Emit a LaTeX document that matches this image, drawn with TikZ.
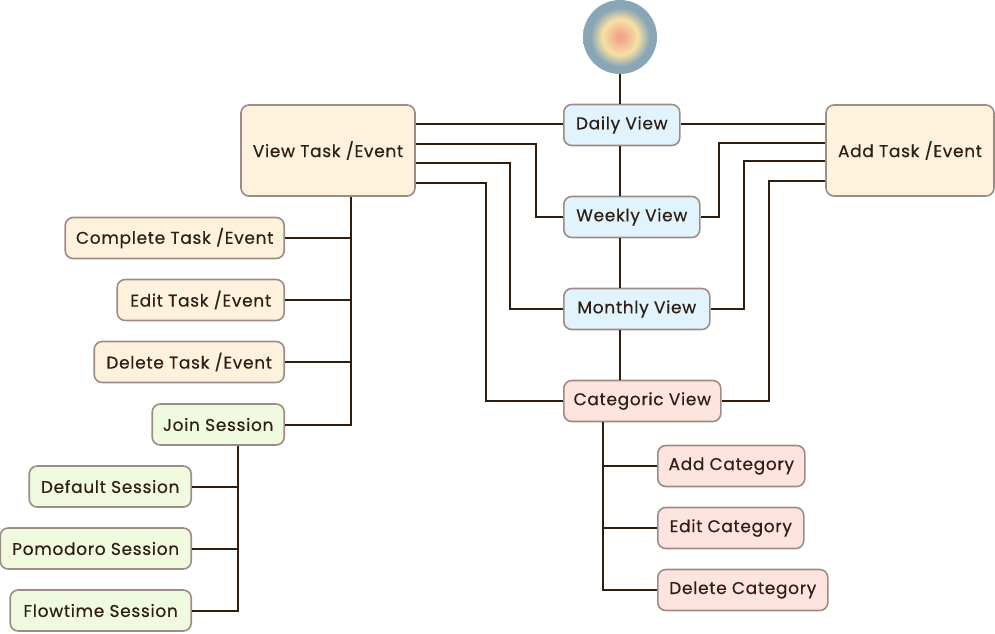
\documentclass[tikz,border=0pt]{standalone}
\usepackage{fontspec}
\setmainfont{Poppins}[LetterSpace=4, FakeBold=0.4]
\definecolor{taskfill}{HTML}{FEF2DC}
\definecolor{viewfill}{HTML}{E1F3FD}
\definecolor{catfill}{HTML}{FDE4DE}
\definecolor{sessfill}{HTML}{F0FADE}
\definecolor{rim}{HTML}{9B8D85}
\definecolor{wire}{HTML}{321E0F}
\definecolor{ink}{HTML}{2D1F14}
\definecolor{salmon}{HTML}{F2A48C}
\definecolor{sunny}{HTML}{F6E1A4}
\definecolor{mist}{HTML}{88A6B6}
\pgfdeclareradialshading{halo}{\pgfpoint{0bp}{0bp}}{color(0bp)=(salmon); color(2bp)=(salmon); color(12bp)=(sunny); color(20bp)=(mist); color(25bp)=(mist); color(50bp)=(mist)}
\tikzset{
  box/.style={draw=rim, line width=1.6pt, rounded corners=8pt, text=ink,
    minimum height=41pt, inner xsep=6pt, font=\fontsize{17}{20}\selectfont},
  bigbox/.style={box, fill=taskfill, minimum height=91pt},
  task/.style={box, fill=taskfill},
  view/.style={box, fill=viewfill},
  cat/.style={box, fill=catfill},
  sess/.style={box, fill=sessfill},
  wirestyle/.style={draw=wire, line width=2pt}
}
\begin{document}
\begin{tikzpicture}[x=1pt, y=-1pt]
        \useasboundingbox (0,0) rectangle (995,633);
        % start and views
        \node[circle, minimum size=74pt, shading=halo] (start) at (620,37) {};
        \node[view, anchor=west, minimum width=116pt] (daily) at (563,125) {Daily View};
        \node[view, anchor=west, minimum width=136pt] (weekly) at (563,217) {Weekly View};
        \node[view, anchor=west, minimum width=146pt] (monthly) at (563,309) {Monthly View};
        \node[cat, anchor=west, minimum width=157pt] (categoric) at (563,401) {Categoric View};
        \node[bigbox, minimum width=174pt] (viewtask) at (328,150.5) {View Task /Event};
        \node[bigbox, minimum width=168pt] (addtask) at (910,150.5) {Add Task /Event};
        % task actions
        \node[task, anchor=east, minimum width=219pt] (complete) at (285,238) {Complete Task /Event};
        \node[task, anchor=east, minimum width=167pt] (edittask) at (285,300) {Edit Task /Event};
        \node[task, anchor=east, minimum width=190pt] (deltask) at (285,362) {Delete Task /Event};
        \node[sess, anchor=east, minimum width=132pt] (join) at (285,424.5) {Join Session};
        \node[sess, anchor=east, minimum width=162pt] (default) at (192,486.5) {Default Session};
        \node[sess, anchor=east, minimum width=191pt] (pomodoro) at (192,548.5) {Pomodoro Session};
        \node[sess, anchor=east, minimum width=181pt] (flowtime) at (192,610.5) {Flowtime Session};
        % categories
        \node[cat, anchor=west, minimum width=147pt] (addcat) at (657,466) {Add Category};
        \node[cat, anchor=west, minimum width=146pt] (editcat) at (657,528) {Edit Category};
        \node[cat, anchor=west, minimum width=170pt] (delcat) at (657,590) {Delete Category};
        % wires
        \draw[wirestyle] (start.south) -- (daily.north -| start.south);
        \draw[wirestyle] (daily.south -| start.south) -- (weekly.north -| start.south);
        \draw[wirestyle] (weekly.south -| start.south) -- (monthly.north -| start.south);
        \draw[wirestyle] (monthly.south -| start.south) -- (categoric.north -| start.south);
        \draw[wirestyle] ([yshift=-19.5pt]viewtask.north east) -- ([yshift=-19.5pt]viewtask.north east -| daily.west);
        \draw[wirestyle] ([yshift=-39.5pt]viewtask.north east) -| ([xshift=-27pt]weekly.west) -- (weekly.west);
        \draw[wirestyle] ([yshift=-58.5pt]viewtask.north east) -| ([xshift=-53pt]monthly.west) -- (monthly.west);
        \draw[wirestyle] ([yshift=-78.5pt]viewtask.north east) -| ([xshift=-77pt]categoric.west) -- (categoric.west);
        \draw[wirestyle] ([yshift=-19.5pt]addtask.north west) -- ([yshift=-19.5pt]addtask.north west -| daily.east);
        \draw[wirestyle] ([yshift=-38.5pt]addtask.north west) -| ([xshift=18pt]weekly.east) -- (weekly.east);
        \draw[wirestyle] ([yshift=-56.5pt]addtask.north west) -| ([xshift=33pt]monthly.east) -- (monthly.east);
        \draw[wirestyle] ([yshift=-76.5pt]addtask.north west) -| ([xshift=47pt]categoric.east) -- (categoric.east);
        \draw[wirestyle] ([xshift=23pt]viewtask.south) |- (join.east);
        \foreach \n in {complete,edittask,deltask}
          \draw[wirestyle] (\n.east) -- ++(66,0);
        \draw[wirestyle] ([xshift=20pt]join.south) |- (flowtime.east);
        \foreach \n in {default,pomodoro}
          \draw[wirestyle] (\n.east) -- ++(47,0);
        \draw[wirestyle] ([xshift=-39pt]categoric.south) |- (delcat.west);
        \foreach \n in {addcat,editcat}
          \draw[wirestyle] (\n.west) -- ++(-55,0);
\end{tikzpicture}
\end{document}
